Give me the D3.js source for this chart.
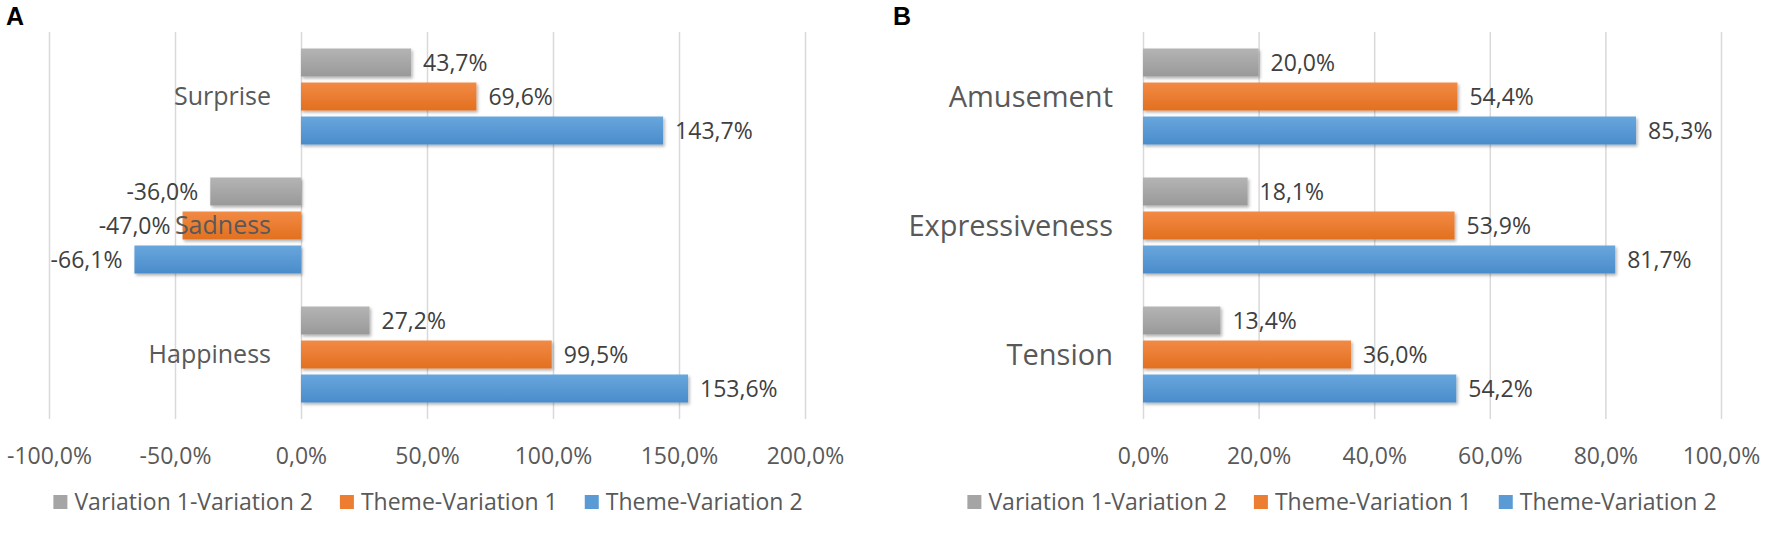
<!DOCTYPE html>
<html>
<head>
<meta charset="utf-8">
<script src="https://cdn.jsdelivr.net/npm/d3@7"></script>
<style>
  html, body { margin: 0; padding: 0; background: #ffffff; }
  svg { display: block; font-family: "Open Sans", "Noto Sans", sans-serif; }
</style>
</head>
<body>
<svg id="chart" width="1772" height="533"></svg>
<script>
// ---------- data ----------
const seriesNames = ["Variation 1-Variation 2", "Theme-Variation 1", "Theme-Variation 2"];
const seriesColors = ["#a5a5a5", "#ed7d31", "#5b9bd5"];

const categoriesA = ["Surprise", "Sadness", "Happiness"];          // top to bottom
const var1Var2A   = [43.7, -36.0, 27.2];
const themeVar1A  = [69.6, -47.0, 99.5];
const themeVar2A  = [143.7, -66.1, 153.6];
const ticksA      = [-100, -50, 0, 50, 100, 150, 200];

const categoriesB = ["Amusement", "Expressiveness", "Tension"];    // top to bottom
const var1Var2B   = [20.0, 18.1, 13.4];
const themeVar1B  = [54.4, 53.9, 36.0];
const themeVar2B  = [85.3, 81.7, 54.2];
const ticksB      = [0, 20, 40, 60, 80, 100];

// ---------- helpers ----------
const loc = d3.formatLocale({decimal: ",", thousands: ".", grouping: [3], currency: ["", ""], minus: "-"});
const fmt = v => loc.format(".1f")(v) + "%";

const svg = d3.select("#chart");
const defs = svg.append("defs");

// gradients per series (slight top-light to bottom-dark shading)
const shades = [
  ["#b4b4b4", "#999999"],
  ["#f28a45", "#e2701f"],
  ["#68a6dd", "#4a8ccb"]
];
shades.forEach((s, i) => {
  const g = defs.append("linearGradient").attr("id", "grad" + i)
    .attr("x1", 0).attr("y1", 0).attr("x2", 0).attr("y2", 1);
  g.append("stop").attr("offset", "0%").attr("stop-color", s[0]);
  g.append("stop").attr("offset", "100%").attr("stop-color", s[1]);
});
const f = defs.append("filter").attr("id", "shadow")
  .attr("x", "-5%").attr("y", "-20%").attr("width", "115%").attr("height", "160%");
f.append("feDropShadow").attr("dx", 1.5).attr("dy", 2).attr("stdDeviation", 1.5)
  .attr("flood-color", "#000").attr("flood-opacity", 0.3);

function drawPanel(opt) {
  const {letter, letterX, categories, values, ticks, xDomain, xRange, catFont, legendCenter} = opt;
  const top = 32, bottom = 419;
  const x = d3.scaleLinear().domain(xDomain).range(xRange);
  const y = d3.scaleBand().domain(categories).range([top, bottom]).padding(0);
  const inner = d3.scaleBand().domain(seriesNames)
    .range([16.5, y.bandwidth() - 16.5]).paddingInner(6 / 34).paddingOuter(0);

  const g = svg.append("g");

  // panel letter
  g.append("text").attr("x", letterX).attr("y", 25)
    .attr("font-family", "Liberation Sans, Arial, sans-serif")
    .attr("font-weight", "bold").attr("font-size", 25).attr("fill", "#000")
    .text(letter);

  // gridlines via axis
  const grid = g.append("g").attr("transform", `translate(0,${bottom})`)
    .call(d3.axisBottom(x).tickValues(ticks).tickSize(-(bottom - top)).tickFormat(""));
  grid.select(".domain").remove();
  grid.selectAll(".tick line").attr("stroke", "#d9d9d9").attr("stroke-width", 1.5);

  // tick labels via axis
  const axis = g.append("g").attr("transform", `translate(0,${bottom})`)
    .call(d3.axisBottom(x).tickValues(ticks).tickSize(0).tickPadding(0)
      .tickFormat(d => fmt(d)));
  axis.select(".domain").remove();
  axis.selectAll(".tick text")
    .attr("y", 37).attr("dy", "0.35em")
    .attr("font-family", "\"Open Sans\", sans-serif")
    .attr("font-size", 23).attr("fill", "#595959");

  // bars
  const rows = [];
  categories.forEach((c, ci) => {
    seriesNames.forEach((s, si) => {
      rows.push({cat: c, series: s, si: si, value: values[si][ci]});
    });
  });

  g.append("g").selectAll("rect").data(rows).join("rect")
    .attr("x", d => Math.min(x(0), x(d.value)))
    .attr("y", d => y(d.cat) + inner(d.series))
    .attr("width", d => Math.abs(x(d.value) - x(0)))
    .attr("height", inner.bandwidth())
    .attr("fill", d => `url(#grad${d.si})`)
    .attr("filter", "url(#shadow)");

  // category labels
  g.append("g").selectAll("text").data(categories).join("text")
    .attr("x", x(0) - 30)
    .attr("y", d => y(d) + y.bandwidth() / 2)
    .attr("dy", "0.35em")
    .attr("text-anchor", "end")
    .attr("font-size", catFont).attr("fill", "#595959")
    .text(d => d);

  // value labels
  g.append("g").selectAll("text").data(rows).join("text")
    .attr("x", d => d.value >= 0 ? x(d.value) + 12 : x(d.value) - 12)
    .attr("y", d => y(d.cat) + inner(d.series) + inner.bandwidth() / 2)
    .attr("dy", "0.35em")
    .attr("text-anchor", d => d.value >= 0 ? "start" : "end")
    .attr("font-size", 23).attr("fill", "#404040")
    .text(d => fmt(d.value));

  // legend
  const lg = g.append("g").attr("transform", `translate(0,502)`);
  const items = lg.selectAll("g").data(seriesNames).join("g");
  items.append("rect").attr("width", 14).attr("height", 14).attr("y", -7)
    .attr("fill", (d, i) => seriesColors[i]);
  items.append("text").attr("x", 21).attr("dy", "0.35em")
    .attr("font-size", 23).attr("fill", "#595959").text(d => d);
  // layout legend centered
  let widths = [];
  items.each(function() { widths.push(21 + this.querySelector("text").getComputedTextLength()); });
  const gap = 27;
  const total = d3.sum(widths) + gap * (widths.length - 1);
  let cx = legendCenter - total / 2;
  items.each(function(d, i) {
    d3.select(this).attr("transform", `translate(${cx},0)`);
    cx += widths[i] + gap;
  });
}

drawPanel({
  letter: "A", letterX: 6,
  categories: categoriesA,
  values: [var1Var2A, themeVar1A, themeVar2A],
  ticks: ticksA,
  xDomain: [-100, 200], xRange: [49, 805],
  catFont: 25,
  legendCenter: 428
});

drawPanel({
  letter: "B", letterX: 893,
  categories: categoriesB,
  values: [var1Var2B, themeVar1B, themeVar2B],
  ticks: ticksB,
  xDomain: [0, 100], xRange: [1143, 1721],
  catFont: 29,
  legendCenter: 1342
});
</script>
</body>
</html>
